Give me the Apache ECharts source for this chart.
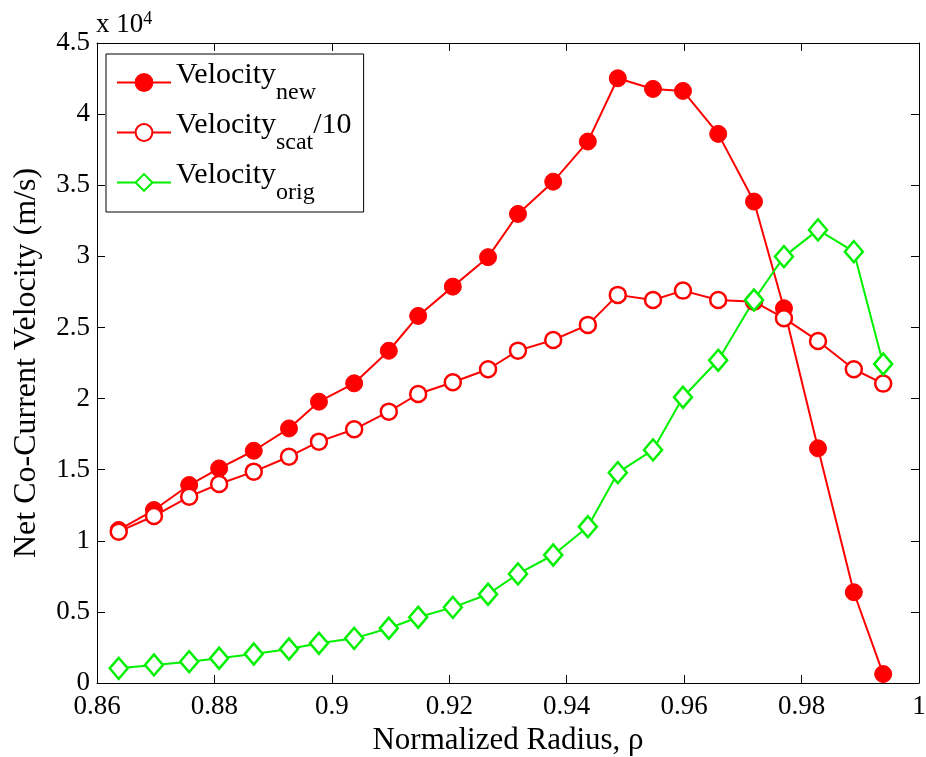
<!DOCTYPE html>
<html>
<head>
<meta charset="utf-8">
<title>Net Co-Current Velocity</title>
<script src="https://cdn.jsdelivr.net/npm/echarts@6/dist/echarts.min.js"></script>
<style>
  html, body { margin: 0; padding: 0; background: #ffffff; }
  #chart { width: 926px; height: 757px; }
</style>
</head>
<body>
<div id="chart"></div>
<script>
// Normalized radius of each sample
var radius = [0.8637, 0.8697, 0.8757, 0.8808, 0.8867, 0.8927, 0.8978, 0.9038,
              0.9097, 0.9147, 0.9206, 0.9266, 0.9317, 0.9377, 0.9436, 0.9487,
              0.9547, 0.9598, 0.9658, 0.9719, 0.9770, 0.9828, 0.9889, 0.9939];

// Velocities, in units of 10^4 m/s
var velocityNew = [1.076, 1.216, 1.392, 1.509, 1.633, 1.790, 1.978, 2.107,
                   2.336, 2.581, 2.787, 2.994, 3.298, 3.525, 3.807, 4.252,
                   4.177, 4.163, 3.861, 3.385, 2.635, 1.650, 0.638, 0.063];
var velocityScat10 = [1.064, 1.174, 1.310, 1.399, 1.486, 1.591, 1.697, 1.784,
                      1.908, 2.032, 2.115, 2.206, 2.337, 2.412, 2.518, 2.729,
                      2.693, 2.759, 2.693, 2.681, 2.565, 2.405, 2.206, 2.105];
var velocityOrig = [0.103, 0.127, 0.150, 0.174, 0.204, 0.239, 0.279, 0.314,
                    0.385, 0.462, 0.532, 0.624, 0.767, 0.900, 1.099, 1.479,
                    1.639, 2.009, 2.269, 2.693, 2.998, 3.186, 3.033, 2.243];

// Axis ticks
var xTicks = [0.86, 0.88, 0.90, 0.92, 0.94, 0.96, 0.98, 1.00];
var yTicks = [0, 0.5, 1, 1.5, 2, 2.5, 3, 3.5, 4, 4.5];

var FONT = 'Liberation Serif';
var RED = '#ff0000';
var GREEN = '#00f000';

function pairs(xs, ys) {
  return xs.map(function (x, i) { return [x, ys[i]]; });
}
function tickText(v) {
  return String(parseFloat(v.toFixed(2)));
}

var xMin = xTicks[0], xMax = xTicks[xTicks.length - 1];
var xStep = +(xTicks[1] - xTicks[0]).toFixed(4);
var yMin = yTicks[0], yMax = yTicks[yTicks.length - 1];
var yStep = yTicks[1] - yTicks[0];

var axisLine = { show: true, onZero: false, lineStyle: { color: '#000', width: 1 } };
var axisTick = { show: true, inside: true, length: 8, lineStyle: { color: '#000', width: 1 } };

var chart = echarts.init(document.getElementById('chart'), null, { renderer: 'canvas' });

chart.setOption({
  animation: false,
  backgroundColor: '#ffffff',
  textStyle: { fontFamily: FONT },
  title: {
    text: '{a|x 10}{b|4}',
    left: 96,
    top: 10,
    padding: 0,
    textStyle: {
      fontWeight: 'normal',
      rich: {
        a: { fontFamily: FONT, fontSize: 27, fontWeight: 'normal', lineHeight: 30, color: '#000' },
        b: { fontFamily: FONT, fontSize: 18, fontWeight: 'normal', lineHeight: 12, verticalAlign: 'top', color: '#000' }
      }
    }
  },
  grid: { left: 97, right: 7, top: 43, bottom: 74, containLabel: false, outerBoundsMode: 'none' },
  legend: {
    orient: 'vertical',
    left: 106,
    top: 54,
    padding: [6, 12, 7, 10],
    itemGap: 5,
    itemWidth: 54,
    itemHeight: 21,
    itemTextGap: 6,
    selectedMode: false,
    backgroundColor: '#ffffff',
    borderColor: '#000',
    borderWidth: 1,
    borderRadius: 0,
    data: ['new', 'scat', 'orig'],
    formatter: function (name) {
      if (name === 'scat') return '{a|Velocity}{b|scat}{a|/10}';
      return '{a|Velocity}{b|' + name + '}';
    },
    textStyle: {
      rich: {
        a: { fontFamily: FONT, fontSize: 30, lineHeight: 30, verticalAlign: 'top', color: '#000' },
        b: { fontFamily: FONT, fontSize: 24, height: 24, lineHeight: 45, padding: [21, 0, 0, 0], color: '#000' }
      }
    }
  },
  xAxis: [{
    type: 'value',
    position: 'bottom',
    min: xMin, max: xMax, interval: xStep,
    name: 'Normalized Radius, ρ',
    nameLocation: 'middle',
    nameGap: 36,
    nameTextStyle: { fontFamily: FONT, fontSize: 31, color: '#000' },
    axisLine: axisLine,
    axisTick: axisTick,
    axisLabel: { show: true, margin: 10, fontFamily: FONT, fontSize: 27, color: '#000', formatter: tickText },
    splitLine: { show: false }
  }, {
    type: 'value',
    position: 'top',
    min: xMin, max: xMax, interval: xStep,
    axisLine: axisLine,
    axisTick: axisTick,
    axisLabel: { show: false },
    splitLine: { show: false }
  }],
  yAxis: [{
    type: 'value',
    position: 'left',
    min: yMin, max: yMax, interval: yStep,
    name: 'Net Co-Current Velocity (m/s)',
    nameLocation: 'middle',
    nameGap: 54,
    nameTextStyle: { fontFamily: FONT, fontSize: 32, color: '#000' },
    axisLine: axisLine,
    axisTick: axisTick,
    axisLabel: { show: true, margin: 7, fontFamily: FONT, fontSize: 27, color: '#000', formatter: tickText },
    splitLine: { show: false }
  }, {
    type: 'value',
    position: 'right',
    min: yMin, max: yMax, interval: yStep,
    axisLine: axisLine,
    axisTick: axisTick,
    axisLabel: { show: false },
    splitLine: { show: false }
  }],
  series: [{
    name: 'new',
    type: 'line',
    xAxisIndex: 0, yAxisIndex: 0,
    data: pairs(radius, velocityNew),
    symbol: 'circle',
    symbolSize: 17,
    showAllSymbol: true,
    lineStyle: { color: RED, width: 2 },
    itemStyle: { color: RED, borderColor: RED, borderWidth: 1 },
    emphasis: { disabled: true }
  }, {
    name: 'scat',
    type: 'line',
    xAxisIndex: 0, yAxisIndex: 0,
    data: pairs(radius, velocityScat10),
    symbol: 'circle',
    symbolSize: 16,
    showAllSymbol: true,
    lineStyle: { color: RED, width: 2 },
    itemStyle: { color: '#ffffff', borderColor: RED, borderWidth: 2.5 },
    emphasis: { disabled: true }
  }, {
    name: 'orig',
    type: 'line',
    xAxisIndex: 0, yAxisIndex: 0,
    data: pairs(radius, velocityOrig),
    symbol: 'diamond',
    symbolSize: [18, 21],
    showAllSymbol: true,
    lineStyle: { color: GREEN, width: 2 },
    itemStyle: { color: '#ffffff', borderColor: GREEN, borderWidth: 2.5 },
    emphasis: { disabled: true }
  }]
});
</script>
</body>
</html>
